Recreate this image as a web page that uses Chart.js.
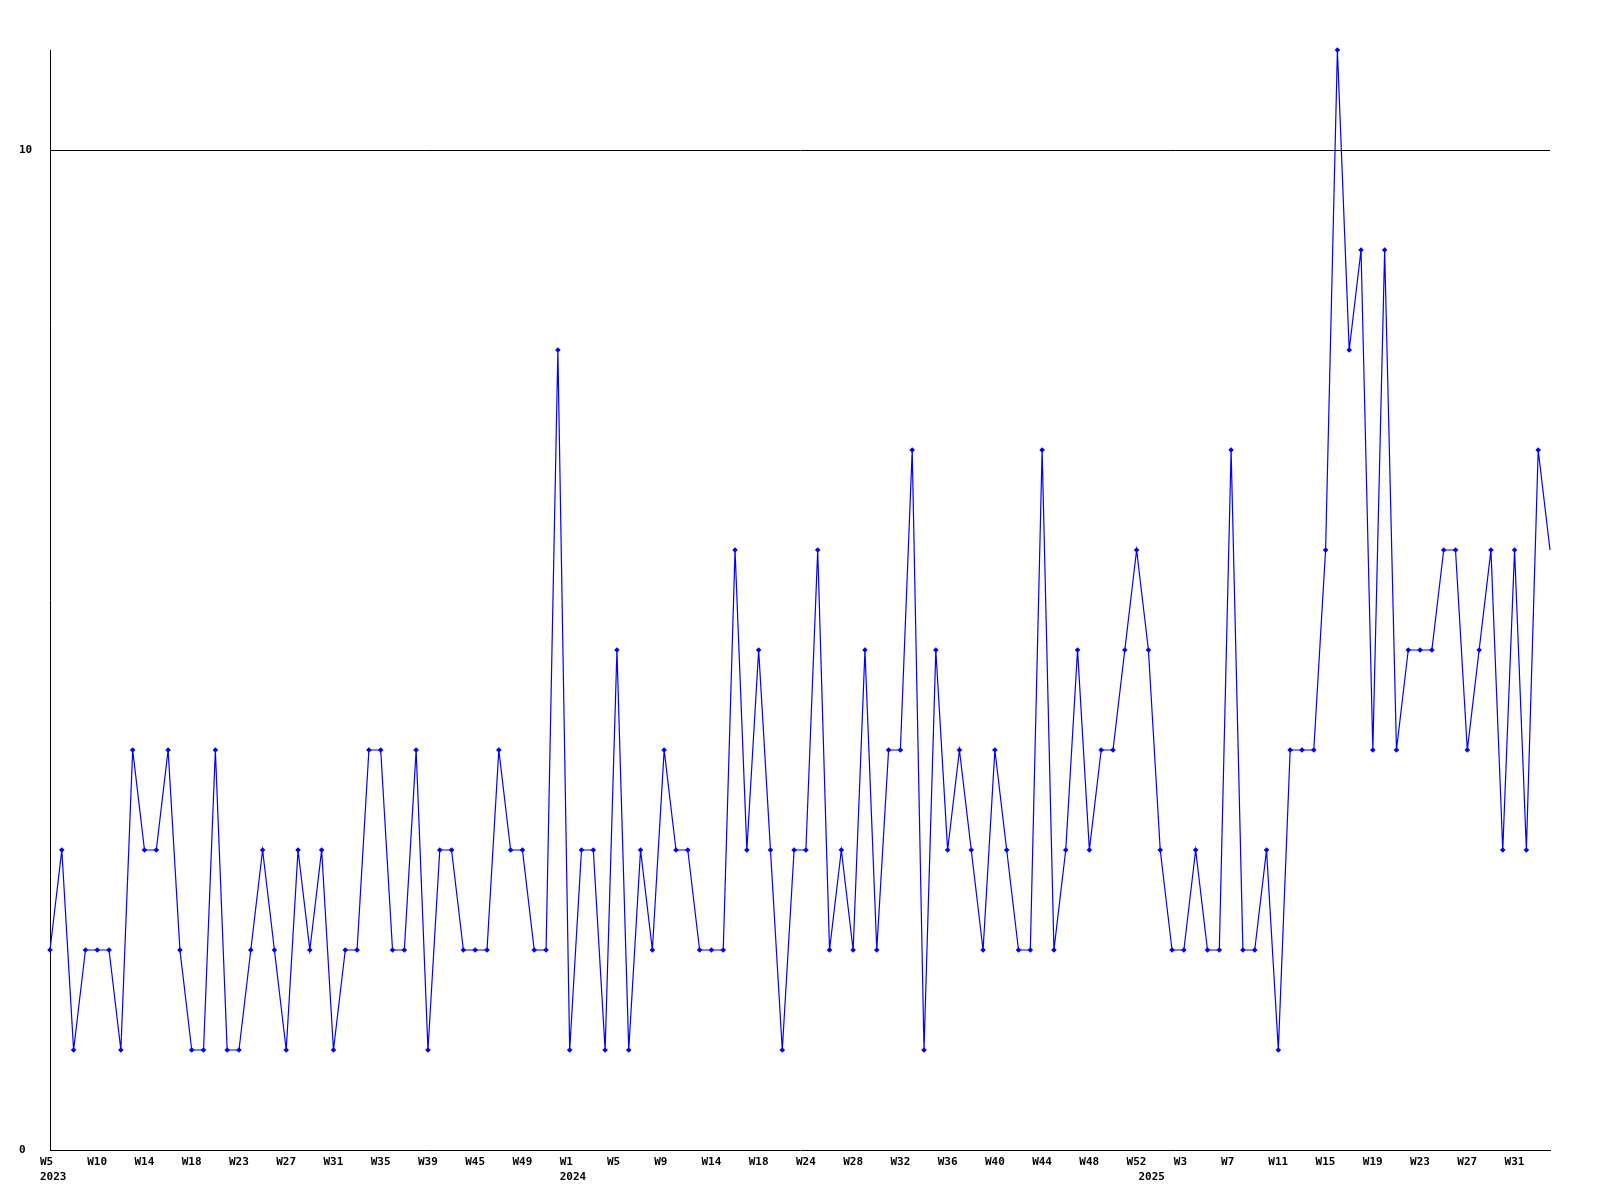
<!DOCTYPE html>
<html>
<head>
<meta charset="utf-8">
<script src="https://cdn.jsdelivr.net/npm/chart.js@4"></script>
<style>
  html, body { margin: 0; padding: 0; background: #fff; }
  #wrap { width: 1600px; height: 1200px; }
</style>
</head>
<body>
<div id="wrap"><canvas id="weekChart" width="1600" height="1200"></canvas></div>
<script>
// --- data ---
const weeks2023 = ['W5','W6','W7','W9','W10','W11','W12','W13','W14','W15','W16','W17',
  'W18','W19','W20','W21','W23','W24','W25','W26','W27','W28','W29','W30','W31','W32',
  'W33','W34','W35','W36','W37','W38','W39','W40','W42','W44','W45','W46','W47','W48',
  'W49','W50','W51','W52'];
const weeks2024 = ['W1','W2','W3','W4','W5','W6','W7','W8','W9','W10','W11','W13',
  'W14','W15','W16','W17','W18','W19','W21','W23','W24','W25','W26','W27','W28','W29',
  'W30','W31','W32','W33','W34','W35','W36','W37','W38','W39','W40','W41','W42','W43',
  'W44','W45','W46','W47','W48','W49','W50','W51','W52'];
const weeks2025 = ['W0','W1','W2','W3','W4','W5','W6','W7','W8','W9','W10','W11',
  'W12','W13','W14','W15','W16','W17','W18','W19','W20','W21','W22','W23','W24','W25',
  'W26','W27','W28','W29','W30','W31','W32','W33','W34'];

const counts = [
  2, 3, 1, 2, 2, 2, 1, 4, 3, 3, 4, 2, 1, 1, 4, 1, 1, 2, 3, 2,
  1, 3, 2, 3, 1, 2, 2, 4, 4, 2, 2, 4, 1, 3, 3, 2, 2, 2, 4, 3,
  3, 2, 2, 8, 1, 3, 3, 1, 5, 1, 3, 2, 4, 3, 3, 2, 2, 2, 6, 3,
  5, 3, 1, 3, 3, 6, 2, 3, 2, 5, 2, 4, 4, 7, 1, 5, 3, 4, 3, 2,
  4, 3, 2, 2, 7, 2, 3, 5, 3, 4, 4, 5, 6, 5, 3, 2, 2, 3, 2, 2,
  7, 2, 2, 3, 1, 4, 4, 4, 6, 11, 8, 9, 4, 9, 4, 5, 5, 5, 6, 6,
  4, 5, 6, 3, 6, 3, 7, 6
];

const yTicks = [0, 10];
const labelEvery = 4;

// --- build categories ---
const categories = [];
const yearOf = [];
[[2023, weeks2023], [2024, weeks2024], [2025, weeks2025]].forEach(([year, list]) => {
    list.forEach(w => { categories.push(w); yearOf.push(year); });
});

const tickFont = { family: "'DejaVu Sans Mono', 'Liberation Mono', monospace", size: 11, weight: 'bold', lineHeight: '15px' };

new Chart(document.getElementById('weekChart'), {
    type: 'line',
    data: {
        labels: categories,
        datasets: [{
            data: counts,
            borderColor: '#0000ff',
            backgroundColor: '#0000ff',
            borderWidth: 1.2,
            tension: 0,
            pointStyle: 'rectRot',
            pointRadius: ctx => ctx.dataIndex === counts.length - 1 ? 0 : 2.8,
            pointBorderWidth: 0,
            clip: false
        }]
    },
    options: {
        responsive: false,
        animation: false,
        layout: { padding: { left: 19, right: 50, top: 50, bottom: 0 } },
        plugins: { legend: { display: false }, tooltip: { enabled: false } },
        scales: {
            x: {
                offset: false,
                grid: { display: false, drawTicks: false },
                border: { display: true, color: '#000', width: 1 },
                afterFit: s => { s.height = 50; },
                ticks: {
                    autoSkip: false,
                    maxRotation: 0,
                    minRotation: 0,
                    align: 'start',
                    labelOffset: -10,
                    padding: 5,
                    color: '#000',
                    font: tickFont,
                    callback: (val, i) => {
                        // week every 4th point, year under the first point of each year
                        const newYear = i === 0 || yearOf[i] !== yearOf[i - 1];
                        const week = i % labelEvery === 0 ? categories[i] : '';
                        if (newYear) return [week, String(yearOf[i])];
                        return week;
                    }
                }
            },
            y: {
                min: 0,
                max: 11,
                afterFit: s => { s.width = 31; },
                afterBuildTicks: s => { s.ticks = yTicks.map(v => ({ value: v })); },
                grid: {
                    drawTicks: false,
                    lineWidth: 1,
                    color: ctx => (ctx.tick && ctx.tick.value === 10) ? '#000' : 'rgba(0,0,0,0)'
                },
                border: { display: true, color: '#000', width: 1 },
                ticks: {
                    crossAlign: 'far',
                    padding: 0,
                    color: '#000',
                    font: tickFont
                }
            }
        }
    }
});
</script>
</body>
</html>
